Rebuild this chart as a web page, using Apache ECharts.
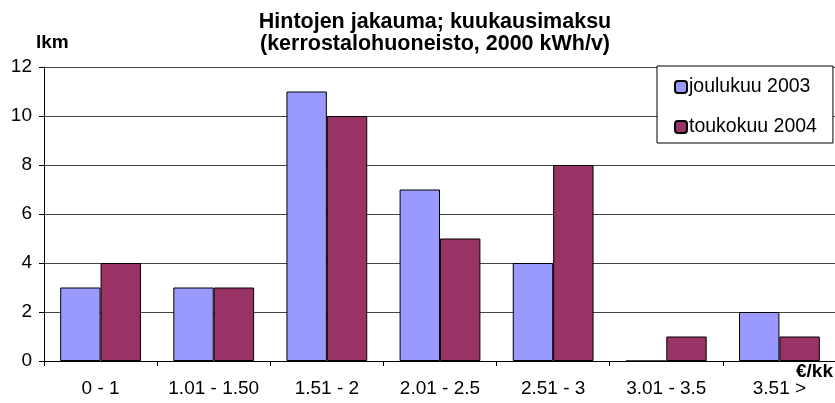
<!DOCTYPE html>
<html><head><meta charset="utf-8">
<script src="https://cdn.jsdelivr.net/npm/echarts@6/dist/echarts.min.js"></script>
<style>html,body{margin:0;padding:0;background:#fff}#c{width:835px;height:403px}</style>
</head><body><div id="c"></div>
<script>
const categories = ['0 - 1', '1.01 - 1.50', '1.51 - 2', '2.01 - 2.5', '2.51 - 3', '3.01 - 3.5', '3.51 >'];
const seriesNames = ['joulukuu 2003', 'toukokuu 2004'];
const dec2003 = [3, 3, 11, 7, 4, 0, 2];
const may2004 = [4, 3, 10, 5, 8, 1, 1];
const yTicks = [0, 2, 4, 6, 8, 10, 12];
const titleText = 'Hintojen jakauma; kuukausimaksu\n(kerrostalohuoneisto, 2000 kWh/v)';
const xUnit = '€/kk';

const font = 'Liberation Sans, Arial, sans-serif';
const chart = echarts.init(document.getElementById('c'), null, {renderer: 'canvas'});
chart.setOption({
  animation: false,
  backgroundColor: '#fff',
  title: [{
    text: titleText, left: 430, textAlign: 'center', top: 6,
    textStyle: {fontFamily: font, fontWeight: 'bold', fontSize: 21.5, lineHeight: 22, color: '#000'}
  }, {
    text: xUnit, right: 2, top: 362, padding: 0,
    textStyle: {fontFamily: font, fontWeight: 'bold', fontSize: 19, color: '#000'}
  }],
  legend: {
    orient: 'vertical', left: 657, top: 66,
    padding: [11, 16, 6, 17], itemGap: 20,
    itemWidth: 12, itemHeight: 12,
    backgroundColor: '#fff', borderColor: '#000', borderWidth: 1,
    textStyle: {fontFamily: font, fontSize: 19.5, color: '#000', padding: [0, 0, 0, -3]},
    data: seriesNames
  },
  grid: {left: 44, top: 67, width: 792, height: 294, containLabel: false, outerBoundsMode: 'none'},
  xAxis: {
    type: 'category', data: categories,
    axisLine: {lineStyle: {color: '#000', width: 1}},
    axisTick: {show: true, length: 5, interval: 0, lineStyle: {color: '#000'}},
    axisLabel: {fontFamily: font, fontSize: 19, color: '#000', margin: 18, interval: 0, hideOverlap: false}
  },
  yAxis: {
    type: 'value', min: 0, max: 12, interval: 2,
    name: 'lkm', nameLocation: 'end', nameGap: 24,
    nameTextStyle: {fontFamily: font, fontWeight: 'bold', fontSize: 19, color: '#000', align: 'left', verticalAlign: 'middle', padding: [0, 0, 0, -8]},
    axisLine: {show: true, lineStyle: {color: '#000', width: 1}},
    axisTick: {show: true, length: 5, lineStyle: {color: '#000'}},
    axisLabel: {fontFamily: font, fontSize: 19, color: '#000', margin: 12,
      formatter: v => yTicks.includes(v) ? String(v) : ''},
    splitLine: {lineStyle: {color: '#444', width: 1}}
  },
  series: [
    {name: seriesNames[0], type: 'bar', data: dec2003, barGap: '0%', barCategoryGap: '28.6%',
     itemStyle: {color: '#9999FF', borderColor: '#000', borderWidth: 1}},
    {name: seriesNames[1], type: 'bar', data: may2004, barGap: '0%', barCategoryGap: '28.6%',
     itemStyle: {color: '#993366', borderColor: '#000', borderWidth: 1}}
  ]
});
</script></body></html>
